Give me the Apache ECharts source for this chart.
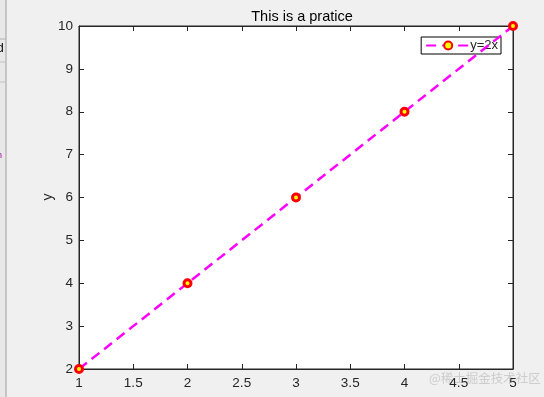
<!DOCTYPE html>
<html><head><meta charset="utf-8">
<script src="https://cdn.jsdelivr.net/npm/echarts@6/dist/echarts.min.js"></script>
<style>html,body{margin:0;padding:0;background:#f0f0f0;}#c{width:544px;height:397px;}</style>
</head><body><div id="c"></div>
<script>
const xValues = [1, 2, 3, 4, 5];
const yValues = [2, 4, 6, 8, 10];
const seriesName = 'y=2x';
const titleText = 'This is a pratice';
const yLabel = 'y';

const chart = echarts.init(document.getElementById('c'));
const font = 'Liberation Sans, Arial, sans-serif';
const tickStyle = {show: true, inside: true, length: 5, lineStyle: {color: '#262626', width: 1}};
chart.setOption({
  backgroundColor: '#f0f0f0',
  animation: false,
  title: {text: titleText, left: 297, top: 4, textAlign: 'center',
    textStyle: {fontFamily: font, fontSize: 14.5, fontWeight: 'normal', color: '#000'}},
  grid: {left: 79, top: 26, width: 434, height: 343, show: true, backgroundColor: '#fff', borderColor: '#262626', borderWidth: 1},
  legend: {right: 43, top: 37, orient: 'horizontal', backgroundColor: '#fff', borderColor: '#000', borderWidth: 1, borderRadius: 0,
    padding: [2, 3, 2, 4], itemWidth: 44, itemHeight: 10, itemGap: 2,
    textStyle: {fontFamily: font, fontSize: 13, color: '#262626', padding: [0, 0, 0, -5]},
    data: [seriesName]},
  xAxis: [
    {type: 'value', min: 1, max: 5, interval: 0.5, position: 'bottom',
      axisLine: {show: true, lineStyle: {color: '#262626'}}, axisTick: tickStyle, splitLine: {show: false},
      axisLabel: {fontFamily: font, fontSize: 13.5, color: '#262626', margin: 7}},
    {type: 'value', min: 1, max: 5, interval: 0.5, position: 'top',
      axisLine: {show: true, lineStyle: {color: '#262626'}}, axisTick: tickStyle, splitLine: {show: false},
      axisLabel: {show: false}}
  ],
  yAxis: [
    {type: 'value', min: 2, max: 10, interval: 1, position: 'left',
      axisLine: {show: true, lineStyle: {color: '#262626'}}, axisTick: tickStyle, splitLine: {show: false},
      axisLabel: {fontFamily: font, fontSize: 13.5, color: '#262626', margin: 6}},
    {type: 'value', min: 2, max: 10, interval: 1, position: 'right',
      axisLine: {show: true, lineStyle: {color: '#262626'}}, axisTick: tickStyle, splitLine: {show: false},
      axisLabel: {show: false}}
  ],
  series: [{
    name: seriesName, type: 'line', xAxisIndex: 0, yAxisIndex: 0,
    data: xValues.map((x, i) => [x, yValues[i]]),
    symbol: 'circle', symbolSize: 7,
    itemStyle: {color: '#ffff00', borderColor: '#ff0000', borderWidth: 3},
    lineStyle: {color: '#ff00ff', width: 2.5, type: [10, 6]},
    clip: false, z: 5
  }],
  graphic: [
    {type: 'rect', shape: {x: 0, y: 0, width: 6, height: 397}, style: {fill: '#e8e8e8'}},
    {type: 'line', shape: {x1: 6, y1: 0, x2: 6, y2: 397}, style: {stroke: '#a0a0a0', lineWidth: 1}},
    {type: 'line', shape: {x1: 0, y1: 39, x2: 6, y2: 39}, style: {stroke: '#b0b0b0', lineWidth: 1}},
    {type: 'line', shape: {x1: 0, y1: 62, x2: 6, y2: 62}, style: {stroke: '#c0c0c0', lineWidth: 1}},
    {type: 'line', shape: {x1: 0, y1: 82, x2: 6, y2: 82}, style: {stroke: '#c0c0c0', lineWidth: 1}},
    {type: 'text', left: -3, top: 43, style: {text: 'd', font: '12px ' + font, fill: '#000'}},
    {type: 'text', left: -3, top: 151, style: {text: 'n', font: '9px ' + font, fill: '#a000a0'}},
    {type: 'text', x: 48, y: 197, rotation: Math.PI / 2,
      style: {text: yLabel, font: '14px ' + font, fill: '#262626', align: 'center', verticalAlign: 'middle'}},
    {type: 'text', left: 429, top: 372, style: {text: '@稀土掘金技术社区', font: '12.5px "Noto Sans CJK SC", sans-serif', fill: 'rgba(170,170,170,0.5)'}}
  ]
});
</script></body></html>
